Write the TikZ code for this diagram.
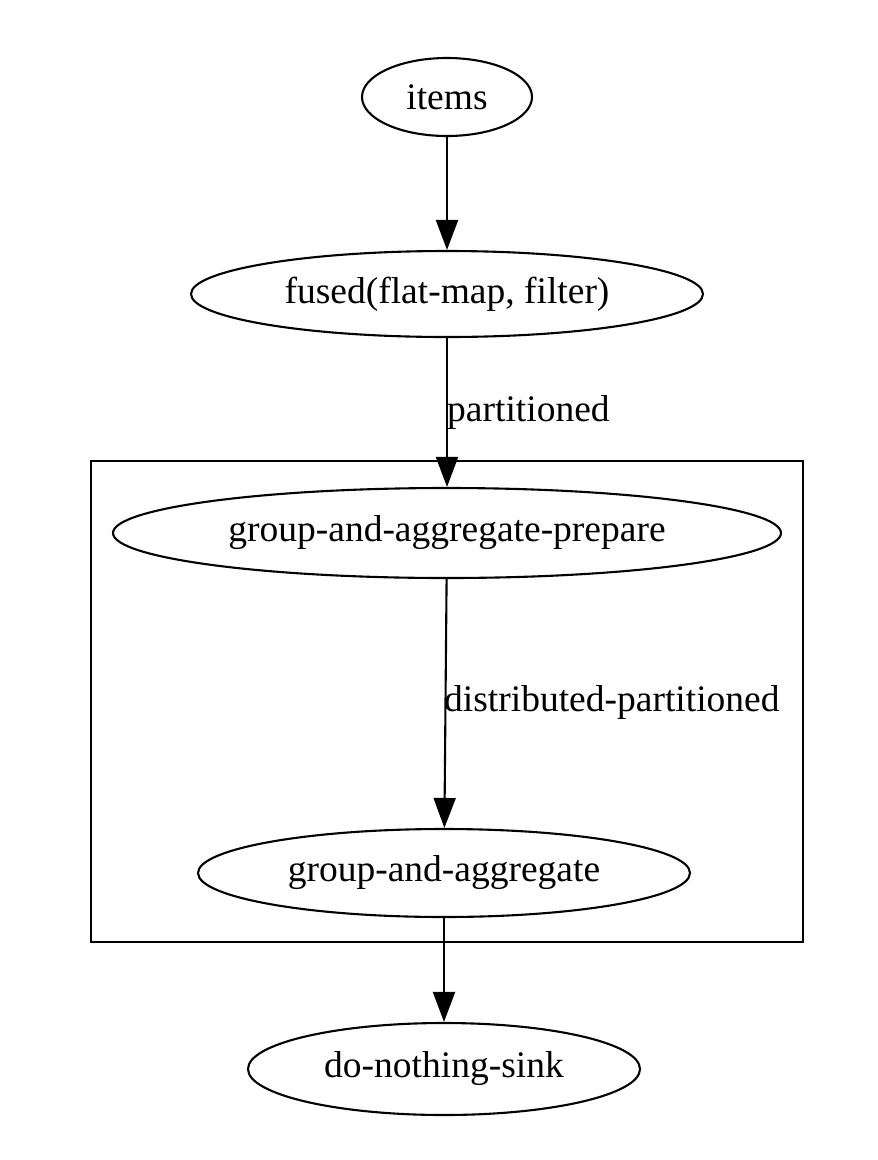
\documentclass[tikz,border=0pt]{standalone}
\usepackage{fontspec}
\setmainfont{Liberation Serif}
\usetikzlibrary{shapes.geometric,arrows.meta}
\begin{document}
\begin{tikzpicture}[x=1pt,y=-1pt,
  gnode/.style={draw,ellipse,line width=2.1pt,inner sep=0pt,font=\fontsize{37.5}{44}\selectfont},
  edge/.style={line width=2.1pt,-{Triangle[length=30pt,width=22pt]}},
  elabel/.style={inner sep=0pt,anchor=west,font=\fontsize{37.5}{44}\selectfont}]
\useasboundingbox (0,0) rectangle (878,1160);
\draw[line width=2.1pt] (91,461) rectangle (803,942);
\node[gnode,minimum width=170pt,minimum height=78pt] (items) at (447,97) {items};
\node[gnode,minimum width=512pt,minimum height=86pt] (fused) at (447,294) {fused(flat-map, filter)};
\node[gnode,minimum width=668pt,minimum height=90pt] (prep) at (447,533) {group-and-aggregate-prepare};
\node[gnode,minimum width=492pt,minimum height=88pt] (gaa) at (444,873) {group-and-aggregate};
\node[gnode,minimum width=392pt,minimum height=92pt] (sink) at (444,1069) {do-nothing-sink};
\draw[edge] (items) -- (fused);
\draw[edge] (fused) -- (prep);
\draw[edge] (prep) -- (gaa);
\draw[edge] (gaa) -- (sink);
\node[elabel] (l1) at (447,412) {partitioned};
\node[elabel] (l2) at (444,702) {distributed-partitioned};
\end{tikzpicture}
\end{document}
